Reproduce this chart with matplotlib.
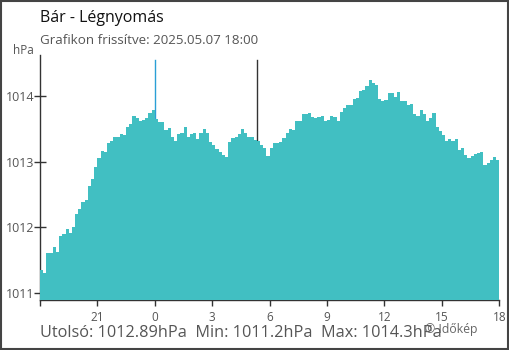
import matplotlib
matplotlib.use("Agg")
import matplotlib.pyplot as plt
from matplotlib.patches import Rectangle

# ---- data ----
title = "Bár - Légnyomás"
subtitle = "Grafikon frissítve: 2025.05.07 18:00"
footer = "Utolsó: 1012.89hPa  Min: 1011.2hPa  Max: 1014.3hPa"
credit = "© Időkép"
unit = "hPa"

# hours since 18:00 of the previous day, 10-minute steps
step_hours = 1 / 6
pressure = [
    1011.35, 1011.30, 1011.60, 1011.60, 1011.70, 1011.62, 1011.86, 1011.89, 1011.97, 1011.91,
    1012.00, 1012.20, 1012.27, 1012.39, 1012.42, 1012.62, 1012.74, 1012.92, 1013.05, 1013.16,
    1013.14, 1013.28, 1013.32, 1013.37, 1013.37, 1013.42, 1013.41, 1013.52, 1013.58, 1013.70,
    1013.66, 1013.62, 1013.64, 1013.66, 1013.74, 1013.78, 1013.65, 1013.60, 1013.60, 1013.48,
    1013.51, 1013.38, 1013.32, 1013.42, 1013.43, 1013.52, 1013.38, 1013.42, 1013.43, 1013.35,
    1013.43, 1013.50, 1013.43, 1013.30, 1013.25, 1013.19, 1013.15, 1013.10, 1013.07, 1013.30,
    1013.36, 1013.37, 1013.42, 1013.50, 1013.43, 1013.37, 1013.37, 1013.33, 1013.32, 1013.26,
    1013.20, 1013.08, 1013.20, 1013.28, 1013.28, 1013.30, 1013.36, 1013.43, 1013.50, 1013.48,
    1013.62, 1013.62, 1013.72, 1013.72, 1013.74, 1013.68, 1013.66, 1013.68, 1013.70, 1013.62,
    1013.63, 1013.70, 1013.68, 1013.62, 1013.76, 1013.82, 1013.86, 1013.86, 1013.96, 1013.97,
    1014.08, 1014.09, 1014.15, 1014.24, 1014.20, 1014.17, 1013.96, 1013.92, 1013.94, 1014.05,
    1014.04, 1013.98, 1014.06, 1013.92, 1013.93, 1013.86, 1013.88, 1013.72, 1013.70, 1013.78,
    1013.72, 1013.62, 1013.66, 1013.74, 1013.52, 1013.46, 1013.40, 1013.32, 1013.35, 1013.31,
    1013.34, 1013.17, 1013.20, 1013.10, 1013.06, 1013.09, 1013.12, 1013.13, 1013.15, 1012.95,
    1012.98, 1013.02, 1013.07, 1013.03,
]
hours = [i * step_hours for i in range(len(pressure))]

xtick_pos = [0, 3, 6, 9, 12, 15, 18, 21, 24]
xtick_lab = ["", "21", "0", "3", "6", "9", "12", "15", "18"]
ytick_pos = [1011, 1012, 1013, 1014]
midnight_h = 6
sunrise_h = 11.35

plt.rcParams['font.family'] = ['Open Sans', 'DejaVu Sans']

fig = plt.figure(figsize=(5.1, 3.5), dpi=100)
ax = fig.add_axes([40/510, 50/350, 459.3/510, 245/350])

base = 1010.0
ax.bar(hours, [p - base for p in pressure], bottom=base, width=step_hours,
       align='edge', color='#41bfc2', linewidth=0, zorder=3)
ax.axvline(midnight_h, ymin=0, ymax=0.98, color='#2a9fd6', lw=1, zorder=2)
ax.axvline(sunrise_h, ymin=0, ymax=0.98, color='#333333', lw=1, zorder=2)

ax.set_xlim(0, 24)
ax.set_ylim(1010.889, 1014.625)
ax.set_xticks(xtick_pos)
ax.set_xticklabels(xtick_lab)
ax.set_yticks(ytick_pos)
ax.set_yticklabels([str(v) for v in ytick_pos])

for s in ['top', 'right']:
    ax.spines[s].set_visible(False)
for s in ['left', 'bottom']:
    ax.spines[s].set_color('#333333')
    ax.spines[s].set_linewidth(1)

ax.tick_params(axis='y', direction='inout', length=8.5, width=1, color='#333333',
               labelsize=9, labelcolor='#555555', pad=0)
ax.tick_params(axis='x', direction='out', length=4.5, width=1, color='#333333',
               labelsize=8.5, labelcolor='#555555', pad=3.5)
ticks = ax.xaxis.get_major_ticks()
ticks[2].tick1line.set_color('#2a9fd6')

fig.text(40/510, 1 - 18/350, title, fontsize=11.5, color='#111111', va='center', ha='left')
fig.text(40/510, 1 - 41/350, subtitle, fontsize=9.6, color='#555555', va='center', ha='left')
fig.text(13/510, 1 - 51/350, unit, fontsize=8.5, color='#555555', va='center', ha='left')
fig.text(40/510, 1 - 333/350, footer, fontsize=11.7, color='#555555', va='center', ha='left')
fig.text(425/510, 1 - 329/350, credit, fontsize=8.8, color='#666666', va='center', ha='left')

fig.patches.append(Rectangle((0.002, 0.003), 0.995, 0.994, transform=fig.transFigure,
                             fill=False, edgecolor='#444444', lw=1.5))

fig.savefig('out.png', dpi=100)
